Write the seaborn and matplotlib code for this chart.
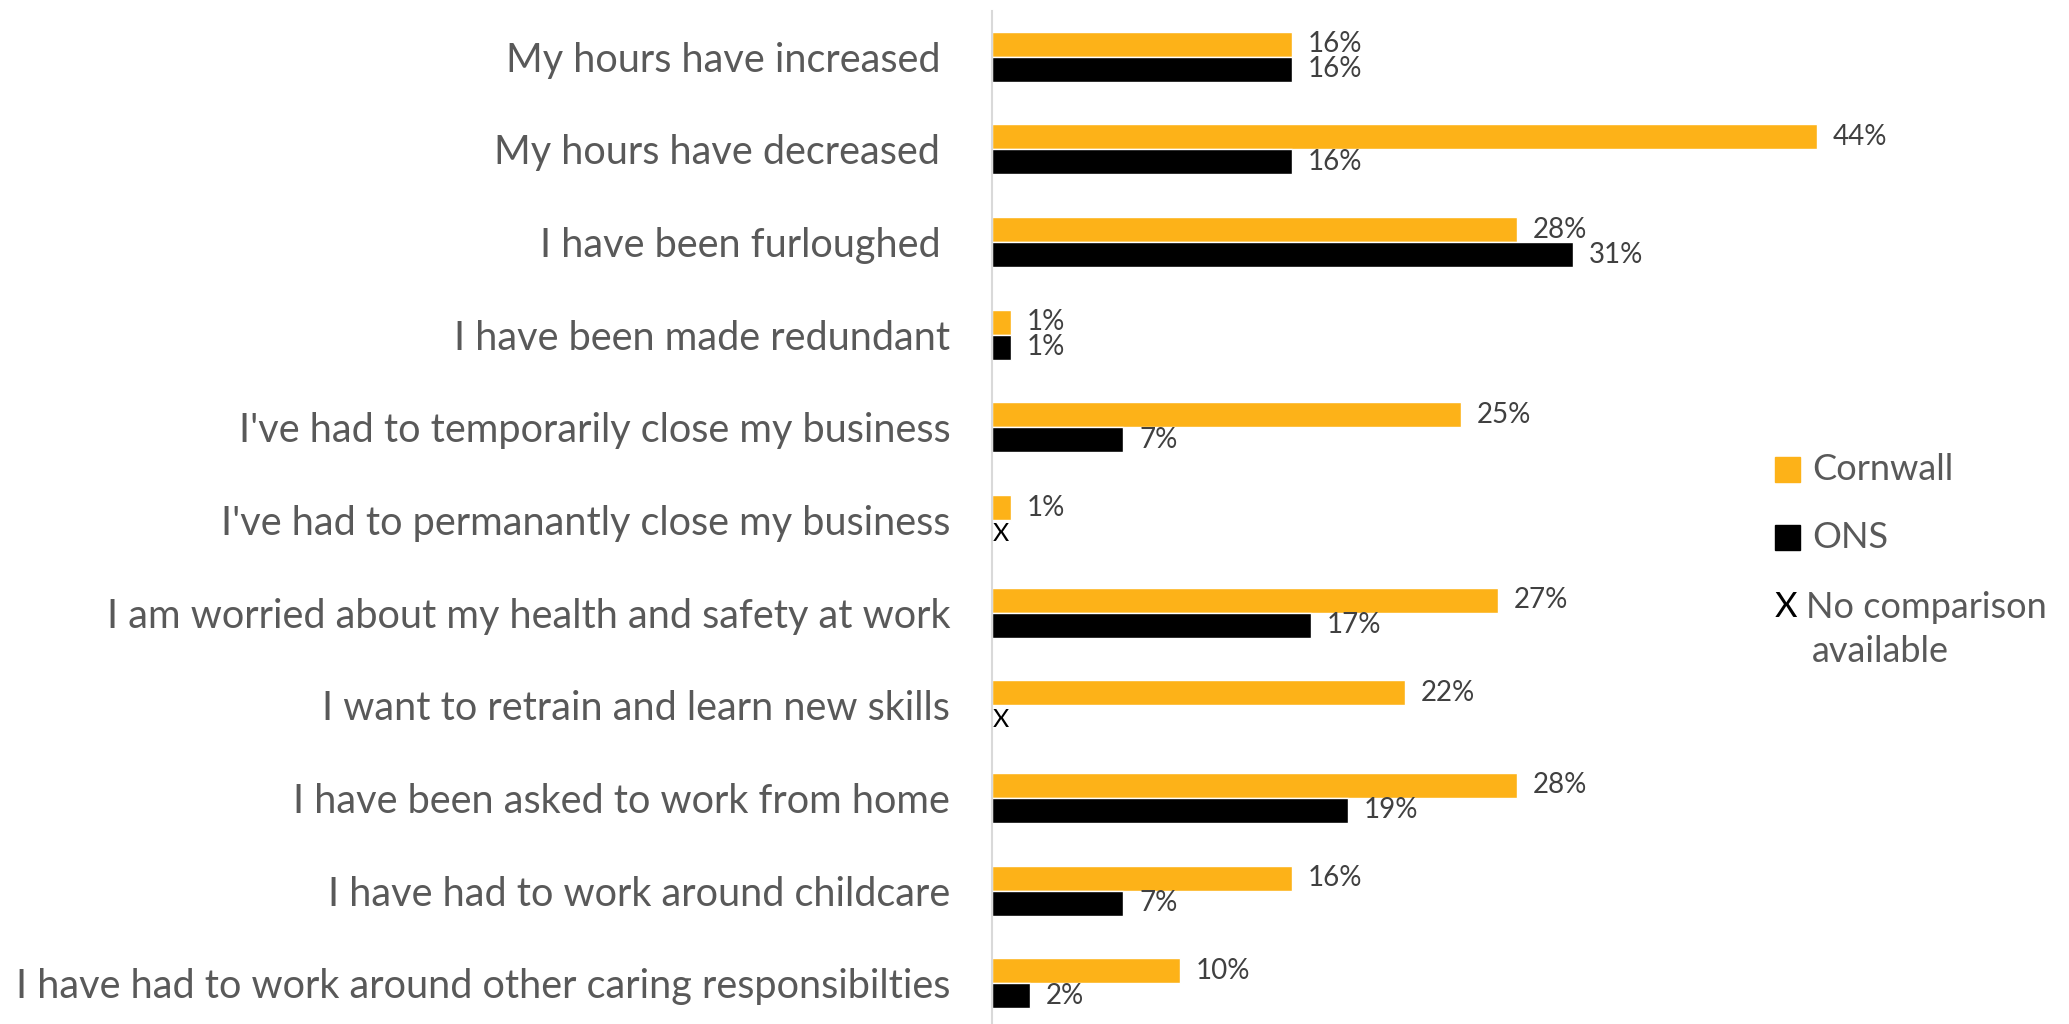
import matplotlib
matplotlib.use("Agg")
import matplotlib.pyplot as plt
import seaborn as sns
import pandas as pd
import numpy as np

categories = [
    "My hours have increased ",
    "My hours have decreased ",
    "I have been furloughed ",
    "I have been made redundant",
    "I've had to temporarily close my business",
    "I've had to permanantly close my business",
    "I am worried about my health and safety at work",
    "I want to retrain and learn new skills",
    "I have been asked to work from home",
    "I have had to work around childcare",
    "I have had to work around other caring responsibilties",
]
cornwall = [16, 44, 28, 1, 25, 1, 27, 22, 28, 16, 10]
ons = [16, 16, 31, 1, 7, np.nan, 17, np.nan, 19, 7, 2]

df = pd.DataFrame({
    "category": categories * 2,
    "value": cornwall + ons,
    "source": ["Cornwall"] * len(categories) + ["ONS"] * len(categories),
})

sns.set_style("white")
plt.rcParams["font.family"] = ["Lato", "DejaVu Sans"]

fig = plt.figure(figsize=(20.69, 10.24), dpi=100)
ax = fig.add_axes([992 / 2069, 0, 900 / 2069, 1013.5 / 1024])

sns.barplot(data=df, x="value", y="category", hue="source", orient="h",
            palette={"Cornwall": "#FDB218", "ONS": "#000000"},
            width=0.54, ax=ax, legend=False, saturation=1)

ax.set_xlim(0, 48)
ax.set_ylim(10.44, -0.5)
ax.set_xlabel("")
ax.set_ylabel("")
ax.set_xticks([])
for s in ["top", "right", "bottom"]:
    ax.spines[s].set_visible(False)
ax.spines["left"].set_color("#D9D9D9")
ax.spines["left"].set_linewidth(1.5)
ax.tick_params(axis="y", length=0, pad=30, labelsize=28.5, labelcolor="#595959")

# data labels, matched to categories by bar position
for cont, vals in zip(ax.containers, [cornwall, ons]):
    for bar in cont:
        yc = bar.get_y() + bar.get_height() / 2
        i = int(round(yc))
        v = vals[i]
        ax.text(v + 0.85, yc, f"{int(v)}%", ha="left", va="center",
                fontsize=20, color="#404040")

# "X" where ONS has no comparison
corn_bars = ax.containers[0]
for i, v in enumerate(ons):
    if np.isnan(v):
        b = corn_bars[i]
        ax.text(0.05, b.get_y() + 1.55 * b.get_height(), "X", ha="left",
                va="center", fontsize=18, color="black")

# legend
lx, ty = 1775 / 2069, 1 - 470 / 1024
fig.patches.append(plt.Rectangle((lx, ty - 12 / 1024), 25 / 2069, 25 / 1024,
                                 transform=fig.transFigure, color="#FDB218"))
fig.patches.append(plt.Rectangle((lx, ty - 80 / 1024), 25 / 2069, 25 / 1024,
                                 transform=fig.transFigure, color="#000000"))
fig.text(1812 / 2069, ty, "Cornwall", fontsize=26, color="#595959", va="center")
fig.text(1812 / 2069, ty - 68 / 1024, "ONS", fontsize=26, color="#595959", va="center")
fig.text(lx, 1 - 607 / 1024, "X", fontsize=25, color="black", va="center")
fig.text(1806 / 2069, 1 - 607 / 1024, "No comparison", fontsize=26, color="#595959", va="center")
fig.text(1812 / 2069, 1 - 652 / 1024, "available", fontsize=26, color="#595959", va="center")

fig.savefig("out.png", dpi=100)
